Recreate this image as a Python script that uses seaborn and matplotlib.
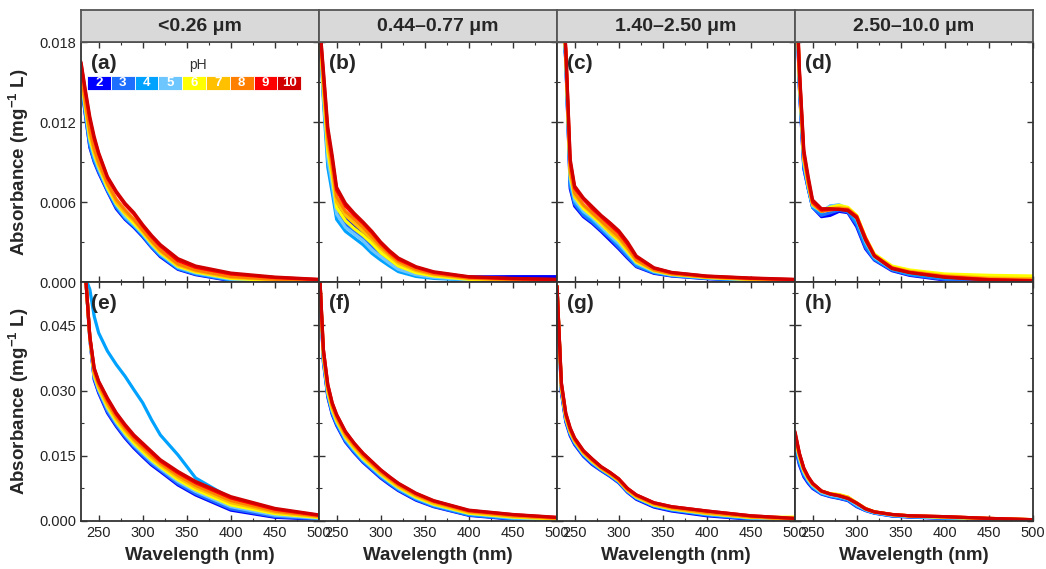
import numpy as np
import pandas as pd
import matplotlib
matplotlib.use("Agg")
import matplotlib.pyplot as plt
from matplotlib.patches import Rectangle
from matplotlib.ticker import MultipleLocator, FormatStrFormatter
import seaborn as sns

# wavelength grid (nm) the values were read at
wavelength = [230, 235, 240, 245, 250, 260, 270, 280, 290, 300, 310, 320, 340, 360, 400, 450, 500]

ph_levels = [2, 3, 4, 5, 6, 7, 8, 9, 10]
ph_colors = ["#0000FF", "#1F6FFF", "#00A2FF", "#6EC6FF", "#FFFF00",
             "#FFC000", "#FF8000", "#FF0000", "#D00000"]

size_titles = ["<0.26 μm", "0.44–0.77 μm", "1.40–2.50 μm", "2.50–10.0 μm"]
panel_letters = ["(a)", "(b)", "(c)", "(d)", "(e)", "(f)", "(g)", "(h)"]

# absorbance in 10^-3 mg^-1 L, one row per pH (2 -> 10)
abs_a = [
    [15.0, 12.5, 10.1, 9.0, 8.2, 6.8, 5.5, 4.7, 4.1, 3.4, 2.6, 1.9, 0.95, 0.55, 0.1, 0.0, 0.0],
    [15.1, 12.6, 10.2, 9.1, 8.3, 6.9, 5.6, 4.8, 4.2, 3.5, 2.65, 2.0, 1.0, 0.6, 0.13, 0.02, 0.01],
    [15.2, 12.7, 10.4, 9.2, 8.4, 6.9, 5.7, 4.8, 4.2, 3.5, 2.7, 2.0, 1.04, 0.63, 0.17, 0.04, 0.02],
    [15.3, 12.9, 10.6, 9.4, 8.5, 7.0, 5.8, 4.9, 4.3, 3.6, 2.8, 2.1, 1.1, 0.68, 0.21, 0.07, 0.04],
    [15.5, 13.1, 10.8, 9.6, 8.7, 7.1, 5.9, 5.1, 4.4, 3.7, 2.9, 2.2, 1.18, 0.75, 0.27, 0.11, 0.06],
    [15.6, 13.3, 11.1, 9.8, 8.8, 7.3, 6.0, 5.2, 4.6, 3.8, 3.0, 2.3, 1.27, 0.82, 0.34, 0.16, 0.08],
    [15.8, 13.5, 11.4, 10.0, 9.0, 7.4, 6.2, 5.4, 4.7, 3.9, 3.1, 2.4, 1.36, 0.9, 0.41, 0.2, 0.11],
    [16.4, 14.2, 12.2, 10.7, 9.6, 7.8, 6.7, 5.8, 5.1, 4.2, 3.4, 2.7, 1.6, 1.1, 0.6, 0.33, 0.18],
    [16.5, 14.4, 12.4, 10.9, 9.7, 7.9, 6.8, 5.9, 5.2, 4.3, 3.5, 2.8, 1.75, 1.2, 0.67, 0.37, 0.2],
]
abs_b = [
    [20.0, 14.6, 10.0, 7.8, 5.8, 4.7, 4.2, 3.7, 3.2, 2.6, 2.0, 1.4, 0.8, 0.55, 0.38, 0.4, 0.4],
    [20.0, 14.0, 9.4, 7.2, 5.3, 4.3, 3.8, 3.3, 2.7, 2.1, 1.6, 1.1, 0.6, 0.4, 0.2, 0.1, 0.08],
    [20.0, 13.6, 8.6, 6.7, 4.7, 3.8, 3.3, 2.8, 2.15, 1.65, 1.2, 0.78, 0.42, 0.27, 0.15, 0.05, 0.0],
    [20.0, 14.0, 9.2, 7.3, 5.1, 4.1, 3.6, 3.1, 2.4, 1.9, 1.4, 0.95, 0.55, 0.35, 0.17, 0.08, 0.04],
    [20.0, 14.4, 9.8, 7.9, 5.6, 4.6, 4.0, 3.5, 2.9, 2.2, 1.7, 1.2, 0.7, 0.45, 0.2, 0.1, 0.06],
    [20.0, 14.8, 10.3, 8.3, 6.0, 5.0, 4.4, 3.8, 3.2, 2.5, 1.95, 1.4, 0.85, 0.55, 0.25, 0.14, 0.1],
    [20.0, 15.2, 10.8, 8.7, 6.4, 5.3, 4.7, 4.1, 3.4, 2.7, 2.1, 1.55, 0.95, 0.62, 0.3, 0.18, 0.12],
    [20.0, 15.6, 11.3, 9.2, 6.9, 5.7, 5.0, 4.4, 3.7, 2.9, 2.25, 1.7, 1.1, 0.72, 0.37, 0.24, 0.18],
    [20.0, 15.9, 11.6, 9.5, 7.1, 5.9, 5.15, 4.5, 3.8, 3.0, 2.35, 1.8, 1.15, 0.77, 0.4, 0.27, 0.2],
]
abs_c = [
    [25.0, 22.0, 16.5, 7.0, 5.7, 4.9, 4.4, 3.8, 3.15, 2.5, 1.8, 1.15, 0.65, 0.45, 0.25, 0.1, 0.05],
    [25.0, 22.1, 16.6, 7.2, 5.85, 5.0, 4.5, 3.9, 3.3, 2.6, 1.9, 1.2, 0.7, 0.48, 0.27, 0.12, 0.07],
    [25.0, 22.2, 16.7, 7.4, 6.0, 5.2, 4.65, 4.05, 3.4, 2.8, 2.05, 1.3, 0.73, 0.5, 0.29, 0.14, 0.08],
    [25.0, 22.3, 16.8, 7.7, 6.15, 5.3, 4.8, 4.15, 3.5, 2.9, 2.15, 1.4, 0.78, 0.53, 0.31, 0.16, 0.1],
    [25.0, 22.5, 17.0, 8.0, 6.4, 5.5, 4.95, 4.35, 3.7, 3.1, 2.3, 1.5, 0.84, 0.57, 0.34, 0.19, 0.12],
    [25.0, 22.6, 17.1, 8.2, 6.5, 5.7, 5.1, 4.5, 3.8, 3.25, 2.45, 1.6, 0.88, 0.6, 0.36, 0.21, 0.13],
    [25.0, 22.7, 17.2, 8.4, 6.7, 5.8, 5.2, 4.6, 4.0, 3.4, 2.6, 1.65, 0.92, 0.62, 0.38, 0.23, 0.15],
    [25.0, 22.9, 17.4, 9.0, 7.05, 6.2, 5.5, 4.9, 4.3, 3.7, 2.85, 1.87, 1.03, 0.7, 0.43, 0.28, 0.18],
    [25.0, 23.0, 17.5, 9.2, 7.2, 6.3, 5.65, 5.0, 4.45, 3.85, 3.0, 1.95, 1.07, 0.72, 0.45, 0.3, 0.2],
]
abs_d = [
    [25.0, 14.5, 8.5, 7.0, 5.6, 4.9, 5.0, 5.3, 5.2, 4.15, 2.5, 1.65, 0.85, 0.5, 0.15, 0.05, 0.03],
    [25.0, 14.6, 8.6, 7.0, 5.6, 5.0, 5.2, 5.4, 5.25, 4.3, 2.6, 1.7, 0.9, 0.55, 0.2, 0.08, 0.05],
    [25.0, 14.8, 8.8, 7.1, 5.6, 5.2, 5.7, 5.75, 5.4, 4.5, 2.8, 1.75, 0.95, 0.6, 0.3, 0.2, 0.25],
    [25.0, 15.0, 9.0, 7.2, 5.7, 5.3, 5.7, 5.8, 5.5, 4.7, 3.0, 1.85, 1.0, 0.7, 0.4, 0.25, 0.2],
    [25.0, 15.2, 9.2, 7.3, 5.8, 5.35, 5.6, 5.75, 5.6, 5.0, 3.35, 2.1, 1.2, 0.9, 0.6, 0.5, 0.45],
    [25.0, 15.4, 9.3, 7.4, 5.85, 5.3, 5.5, 5.6, 5.5, 4.95, 3.3, 2.0, 1.1, 0.8, 0.48, 0.3, 0.25],
    [25.0, 15.6, 9.5, 7.5, 5.9, 5.3, 5.4, 5.5, 5.45, 4.9, 3.2, 1.95, 1.05, 0.75, 0.42, 0.22, 0.15],
    [25.0, 15.8, 9.7, 7.7, 6.0, 5.4, 5.45, 5.45, 5.4, 4.9, 3.3, 2.0, 1.05, 0.72, 0.38, 0.18, 0.1],
    [25.0, 16.0, 9.9, 7.9, 6.15, 5.5, 5.5, 5.45, 5.35, 4.8, 3.15, 1.95, 1.0, 0.7, 0.35, 0.15, 0.08],
]
abs_e = [
    [60.0, 57.0, 42.0, 32.5, 29.5, 24.9, 21.8, 19.1, 16.8, 14.8, 12.9, 11.4, 8.3, 6.0, 2.5, 0.85, 0.4],
    [60.0, 57.0, 42.0, 32.8, 29.8, 25.2, 22.1, 19.4, 17.1, 15.1, 13.2, 11.7, 8.6, 6.3, 2.8, 1.05, 0.5],
    [60.0, 56.0, 53.3, 47.1, 43.3, 39.1, 36.0, 33.3, 30.2, 27.2, 23.3, 19.8, 15.2, 9.9, 5.2, 2.5, 0.6],
    [60.0, 57.0, 42.1, 33.2, 30.2, 25.8, 22.6, 19.9, 17.5, 15.6, 13.7, 12.1, 9.1, 6.8, 3.3, 1.35, 0.65],
    [60.0, 57.0, 42.2, 33.6, 30.6, 26.3, 23.0, 20.3, 18.0, 16.0, 14.1, 12.5, 9.5, 7.2, 3.7, 1.7, 0.8],
    [60.0, 57.0, 42.3, 34.0, 31.0, 26.8, 23.5, 20.8, 18.5, 16.5, 14.6, 12.9, 10.0, 7.7, 4.2, 2.0, 0.95],
    [60.0, 57.0, 42.4, 34.4, 31.4, 27.3, 24.0, 21.3, 18.9, 17.0, 15.1, 13.3, 10.5, 8.2, 4.7, 2.3, 1.1],
    [60.0, 57.0, 42.5, 35.0, 32.0, 28.0, 24.6, 21.9, 19.5, 17.6, 15.7, 13.8, 11.1, 8.8, 5.3, 2.7, 1.3],
    [60.0, 57.0, 42.5, 35.2, 32.2, 28.3, 24.9, 22.2, 19.8, 17.9, 16.0, 14.1, 11.4, 9.1, 5.6, 2.9, 1.4],
]
abs_f = [
    [60.0, 36.5, 28.5, 24.5, 22.0, 18.2, 15.7, 13.5, 11.7, 9.9, 8.4, 7.0, 4.8, 3.3, 1.3, 0.4, 0.15],
    [60.0, 36.8, 28.8, 24.8, 22.3, 18.4, 15.9, 13.7, 11.9, 10.1, 8.6, 7.2, 5.0, 3.4, 1.4, 0.5, 0.2],
    [60.0, 37.1, 29.1, 25.0, 22.5, 18.7, 16.1, 13.9, 12.1, 10.3, 8.8, 7.3, 5.1, 3.6, 1.5, 0.6, 0.3],
    [60.0, 37.4, 29.4, 25.3, 22.8, 18.9, 16.4, 14.1, 12.3, 10.5, 9.0, 7.5, 5.3, 3.7, 1.7, 0.7, 0.35],
    [60.0, 37.9, 29.8, 25.7, 23.1, 19.3, 16.7, 14.4, 12.6, 10.8, 9.2, 7.8, 5.5, 3.9, 1.8, 0.9, 0.45],
    [60.0, 38.3, 30.2, 26.1, 23.5, 19.6, 17.0, 14.8, 12.9, 11.0, 9.5, 8.0, 5.8, 4.1, 2.0, 1.05, 0.55],
    [60.0, 38.8, 30.7, 26.5, 23.9, 20.0, 17.4, 15.1, 13.2, 11.3, 9.8, 8.3, 6.0, 4.4, 2.2, 1.2, 0.65],
    [60.0, 39.4, 31.3, 27.1, 24.4, 20.5, 17.8, 15.5, 13.6, 11.7, 10.1, 8.6, 6.3, 4.6, 2.4, 1.45, 0.8],
    [60.0, 39.5, 31.4, 27.2, 24.5, 20.6, 17.9, 15.6, 13.7, 11.8, 10.2, 8.7, 6.4, 4.7, 2.5, 1.5, 0.85],
]
abs_g = [
    [54.0, 29.5, 22.8, 19.6, 17.6, 14.9, 13.0, 11.6, 10.3, 8.8, 6.6, 5.0, 3.2, 2.3, 1.2, 0.4, 0.1],
    [54.0, 29.8, 23.1, 19.9, 17.8, 15.1, 13.2, 11.7, 10.4, 8.9, 6.7, 5.2, 3.4, 2.5, 1.4, 0.5, 0.2],
    [54.0, 30.2, 23.4, 20.1, 18.1, 15.3, 13.4, 11.9, 10.6, 9.1, 6.9, 5.3, 3.5, 2.6, 1.5, 0.65, 0.25],
    [54.0, 30.4, 23.6, 20.3, 18.2, 15.4, 13.5, 12.0, 10.7, 9.2, 7.0, 5.4, 3.6, 2.7, 1.6, 0.7, 0.3],
    [54.0, 30.6, 23.8, 20.5, 18.4, 15.6, 13.7, 12.1, 10.8, 9.3, 7.1, 5.5, 3.7, 2.8, 1.75, 0.8, 0.9],
    [54.0, 30.9, 24.0, 20.7, 18.5, 15.7, 13.8, 12.1, 10.8, 9.3, 7.1, 5.6, 3.8, 2.9, 1.8, 0.9, 0.35],
    [54.0, 31.2, 24.3, 20.9, 18.7, 15.9, 14.0, 12.3, 11.0, 9.5, 7.3, 5.8, 4.0, 3.1, 2.0, 1.0, 0.45],
    [54.0, 31.7, 24.7, 21.3, 19.0, 16.1, 14.2, 12.5, 11.2, 9.7, 7.5, 6.0, 4.2, 3.3, 2.3, 1.2, 0.6],
    [54.0, 31.8, 24.8, 21.4, 19.1, 16.2, 14.3, 12.5, 11.2, 9.7, 7.5, 6.0, 4.2, 3.3, 2.3, 1.2, 0.6],
]
abs_h = [
    [17.2, 12.9, 10.2, 8.7, 7.5, 6.2, 5.6, 5.2, 4.7, 3.3, 2.4, 1.8, 1.15, 0.9, 0.6, 0.4, 0.2],
    [17.5, 13.3, 10.5, 9.0, 7.7, 6.3, 5.7, 5.3, 4.8, 3.4, 2.5, 1.85, 1.2, 0.95, 0.65, 0.45, 0.22],
    [18.0, 13.8, 10.9, 9.2, 7.9, 6.4, 5.8, 5.4, 4.9, 3.6, 2.5, 1.9, 1.25, 1.0, 0.7, 0.45, 0.22],
    [18.5, 14.2, 11.2, 9.4, 8.1, 6.5, 5.9, 5.6, 5.1, 3.7, 2.6, 1.95, 1.3, 1.05, 0.75, 0.5, 0.25],
    [19.0, 14.8, 11.6, 9.7, 8.4, 6.8, 6.3, 6.1, 5.5, 4.1, 2.8, 2.1, 1.45, 1.15, 0.85, 0.55, 0.3],
    [19.5, 15.0, 11.8, 9.9, 8.5, 6.9, 6.3, 6.0, 5.5, 4.2, 2.9, 2.15, 1.5, 1.2, 0.9, 0.6, 0.3],
    [20.0, 15.3, 12.0, 10.0, 8.6, 6.9, 6.2, 5.9, 5.3, 4.1, 2.85, 2.1, 1.5, 1.2, 1.0, 0.6, 0.3],
    [20.3, 15.5, 12.1, 10.1, 8.6, 6.9, 6.2, 5.8, 5.2, 4.1, 2.8, 2.1, 1.5, 1.2, 1.0, 0.6, 0.3],
    [20.6, 15.6, 12.2, 10.2, 8.7, 6.9, 6.2, 5.8, 5.2, 4.1, 2.8, 2.1, 1.5, 1.2, 1.0, 0.6, 0.3],
]

panels = [abs_a, abs_b, abs_c, abs_d, abs_e, abs_f, abs_g, abs_h]


def to_frame(rows):
    recs = []
    for ph, vals in zip(ph_levels, rows):
        for wl, v in zip(wavelength, vals):
            recs.append((wl, v / 1000.0, ph))  # back to mg^-1 L
    return pd.DataFrame(recs, columns=["wl", "absorbance", "pH"])


sns.set_style("ticks")
plt.rcParams["font.family"] = ["Liberation Sans", "DejaVu Sans"]
plt.rcParams["mathtext.fontset"] = "custom"
plt.rcParams["mathtext.rm"] = "Liberation Sans:bold"
plt.rcParams["mathtext.bf"] = "Liberation Sans:bold"
plt.rcParams["mathtext.default"] = "bf"

fig = plt.figure(figsize=(10.46, 5.69), dpi=100)
fig.patch.set_facecolor("white")

x0 = 81 / 1046
w = 238 / 1046
row_bottom = [287 / 569, 48 / 569]
row_height = [240 / 569, 239 / 569]
row_ylim = [0.018, 0.055]
row_major = [0.006, 0.015]
row_minor = [0.003, 0.0075]

palette = dict(zip(ph_levels, ph_colors))
ylabel = r"Absorbance (mg$^{-1}$ L)"

for i, rows in enumerate(panels):
    r, c = divmod(i, 4)
    ax = fig.add_axes([x0 + c * w, row_bottom[r], w, row_height[r]])
    df = to_frame(rows)
    sns.lineplot(data=df, x="wl", y="absorbance", hue="pH", hue_order=ph_levels,
                 palette=palette, estimator=None, sort=False, legend=False,
                 linewidth=2.3, ax=ax)
    ax.set_xlim(230, 500)
    ax.set_ylim(0, row_ylim[r])
    ax.xaxis.set_major_locator(MultipleLocator(50))
    ax.xaxis.set_minor_locator(MultipleLocator(25))
    ax.yaxis.set_major_locator(MultipleLocator(row_major[r]))
    ax.yaxis.set_minor_locator(MultipleLocator(row_minor[r]))
    ax.yaxis.set_major_formatter(FormatStrFormatter("%.3f"))
    ax.tick_params(which="both", direction="in", top=True, right=True,
                   colors="#333333", labelsize=10.5, labelcolor="#222222")
    ax.tick_params(which="major", length=4, width=1)
    ax.tick_params(which="minor", length=2.5, width=0.8)
    for sp in ax.spines.values():
        sp.set_color("#333333")
        sp.set_linewidth(1.3)
    if c > 0:
        ax.tick_params(labelleft=False)
        ax.set_ylabel("")
    else:
        ax.set_ylabel(ylabel, fontsize=13.5, fontweight="bold", labelpad=6)
    if r == 0:
        ax.tick_params(labelbottom=False)
        ax.set_xlabel("")
    else:
        ax.set_xlabel("Wavelength (nm)", fontsize=13.5, fontweight="bold", labelpad=5)
    ax.text(0.04, 0.91, panel_letters[i], transform=ax.transAxes, fontsize=15,
            fontweight="bold", va="center", ha="left")

    if r == 0:
        hax = fig.add_axes([x0 + c * w, 0.926, w, 32 / 569])
        hax.set_facecolor("#d9d9d9")
        hax.set_xticks([])
        hax.set_yticks([])
        for sp in hax.spines.values():
            sp.set_color("#555555")
            sp.set_linewidth(1.3)
        hax.text(0.5, 0.5, size_titles[c], ha="center", va="center",
                 fontsize=14, fontweight="bold", transform=hax.transAxes)

    if i == 0:
        # pH colour key
        bx0, bw, by, bh = 0.025, 0.1, 0.80, 0.058
        for k, (ph, col) in enumerate(zip(ph_levels, ph_colors)):
            ax.add_patch(Rectangle((bx0 + k * bw, by), bw, bh, transform=ax.transAxes,
                                   facecolor=col, edgecolor="white", linewidth=0.6,
                                   clip_on=False, zorder=5))
            ax.text(bx0 + (k + 0.5) * bw, by + bh / 2, str(ph), transform=ax.transAxes,
                    ha="center", va="center", color="white", fontsize=9.5,
                    fontweight="bold", zorder=6)
        ax.text(0.49, 0.905, "pH", transform=ax.transAxes, ha="center", va="center",
                fontsize=10, color="#333333")

fig.savefig("out.png", dpi=100, facecolor="white")
